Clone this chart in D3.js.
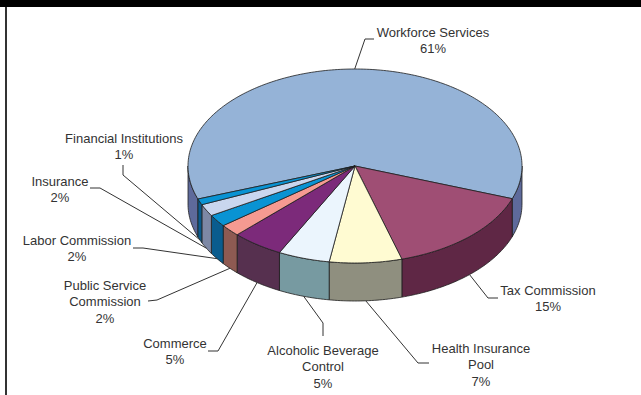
<!DOCTYPE html>
<html>
<head>
<meta charset="utf-8">
<script src="https://cdn.jsdelivr.net/npm/d3@7"></script>
<style>
  html, body { margin: 0; padding: 0; background: #fff; }
  svg { display: block; }
  text { font-family: "Liberation Sans", Arial, sans-serif; font-size: 13px; fill: #333; }
</style>
</head>
<body>
<svg id="chart" width="641" height="395"></svg>
<script>
// Agency shares of the total, clockwise from the back of the pie
const categories = [
  "Workforce Services", "Tax Commission", "Health Insurance Pool",
  "Alcoholic Beverage Control", "Commerce", "Public Service Commission",
  "Labor Commission", "Insurance", "Financial Institutions"
];
const shares = [61, 15, 7, 5, 5, 2, 2, 2, 1];
const labelLines = [
  ["Workforce Services"], ["Tax Commission"], ["Health Insurance", "Pool"],
  ["Alcoholic Beverage", "Control"], ["Commerce"], ["Public Service", "Commission"],
  ["Labor Commission"], ["Insurance"], ["Financial Institutions"]
];

// Face colours (top) and wall colours (side) per slice
const topColors  = ["#95b3d7", "#9f4e74", "#fffbd2", "#ebf5fd", "#7c2a7a", "#f59a91", "#0993d3", "#c9d6ee", "#0993d3"];
const sideColors = ["#5e6a9b", "#5f2745", "#8f8f7f", "#779aa1", "#56304f", "#8e5a52", "#0a5c8e", "#7d88a5", "#0b5b8d"];

// Label placement: text centre, first line y, and leader elbow / stub points
const labelLayout = [
  { x: 433, y: 32,  lead: [[365, 39], [374, 39]] },
  { x: 548, y: 290, lead: [[488, 298], [498, 298]] },
  { x: 481, y: 348, lead: [[418, 363], [429, 363]] },
  { x: 323, y: 350, lead: [[323, 323], [323, 336]] },
  { x: 175, y: 343, lead: [[218, 351], [208, 351]] },
  { x: 105, y: 285, lead: [[157, 300], [148, 301]] },
  { x: 77,  y: 240, lead: [[143, 248], [133, 248]] },
  { x: 60,  y: 181, lead: [[100, 188], [90, 188]] },
  { x: 124, y: 138, lead: [[123, 175], [123, 165]] }
];

const W = 641, H = 395;
const cx = 355, cy = 166, rx = 167, ry = 97, depth = 38;
const lineH = 16.8;

const svg = d3.select("#chart");
svg.append("rect").attr("width", W).attr("height", H).attr("fill", "#fff");
svg.append("rect").attr("x", 0).attr("y", 0).attr("width", W).attr("height", 7).attr("fill", "#000");
svg.append("rect").attr("x", 5).attr("y", 7).attr("width", 2).attr("height", H - 7).attr("fill", "#333");

const rad = Math.PI / 180;
const pie = d3.pie().sort(null).value(d => d)
  .startAngle(250.1 * rad).endAngle((250.1 + 360) * rad);
const arcs = pie(shares);

// d3.pie angles run clockwise from 12 o'clock; convert to an angle from +x (y down)
const toT = a => a - Math.PI / 2;
const px = t => cx + rx * Math.cos(t);
const py = (t, dz = 0) => cy + ry * Math.sin(t) + dz;
function arcPts(t0, t1, dz) {
  const n = Math.max(2, Math.ceil(Math.abs(t1 - t0) / rad));
  return d3.range(n + 1).map(i => {
    const t = t0 + (t1 - t0) * i / n;
    return [px(t), py(t, dz)];
  });
}
const line = d3.line();

// Outer walls: only the front half of the rim is visible
const wallG = svg.append("g");
arcs.forEach((a, i) => {
  const t0 = toT(a.startAngle), t1 = toT(a.endAngle);
  for (let k = -1; k <= 2; k++) {
    const lo = Math.max(t0, 2 * Math.PI * k), hi = Math.min(t1, 2 * Math.PI * k + Math.PI);
    if (hi > lo) {
      const pts = arcPts(lo, hi, 0).concat(arcPts(hi, lo, depth));
      wallG.append("path")
        .attr("d", line(pts) + "Z")
        .attr("fill", sideColors[i])
        .attr("stroke", "#1e1e1e").attr("stroke-width", 0.8).attr("stroke-linejoin", "round");
    }
  }
});

// Top faces
const topG = svg.append("g");
arcs.forEach((a, i) => {
  const pts = [[cx, cy]].concat(arcPts(toT(a.startAngle), toT(a.endAngle), 0));
  topG.append("path")
    .attr("d", line(pts) + "Z")
    .attr("fill", topColors[i])
    .attr("stroke", "#1e1e1e").attr("stroke-width", 0.8).attr("stroke-linejoin", "round");
});

// Leader lines from each slice's mid-rim to its label
const leadG = svg.append("g");
arcs.forEach((a, i) => {
  const tm = toT((a.startAngle + a.endAngle) / 2);
  const front = Math.sin(tm) > 0;
  const start = [px(tm), py(tm, front ? depth : 0)];
  leadG.append("path")
    .attr("d", line([start].concat(labelLayout[i].lead)))
    .attr("fill", "none").attr("stroke", "#333").attr("stroke-width", 1);
});

// Labels: name lines then the share
const labG = svg.append("g");
arcs.forEach((a, i) => {
  const L = labelLayout[i];
  const rows = labelLines[i].concat([shares[i] + "%"]);
  const t = labG.append("text").attr("text-anchor", "middle");
  rows.forEach((r, j) => {
    t.append("tspan").attr("x", L.x).attr("y", L.y + 4.6 + j * lineH).text(r);
  });
});
</script>
</body>
</html>
